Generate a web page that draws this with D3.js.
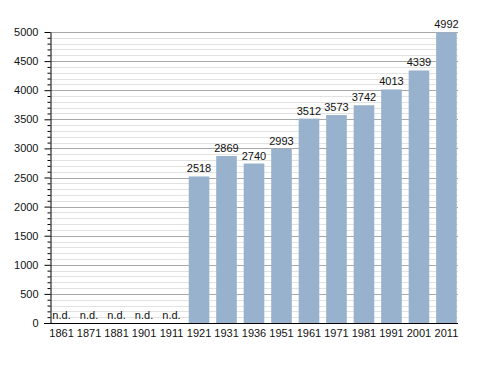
<!DOCTYPE html>
<html lang="en">
    <head>
        <meta charset="utf-8">
        <title>Population bar chart</title>
        <script src="https://cdn.jsdelivr.net/npm/d3@7"></script>
        <style>
            body { margin: 0; background: #fff; }
            text { font-family: "Liberation Sans", Arial, sans-serif; }
        </style>
    </head>
    <body>
        <script>
            // census years and population (null = no data, "n.d.")
            var years = ["1861", "1871", "1881", "1901", "1911", "1921", "1931", "1936",
                         "1951", "1961", "1971", "1981", "1991", "2001", "2011"];
            var population = [null, null, null, null, null, 2518, 2869, 2740,
                              2993, 3512, 3573, 3742, 4013, 4339, 4992];
            var yTicks = [0, 500, 1000, 1500, 2000, 2500, 3000, 3500, 4000, 4500, 5000];

            var w = 488, h = 373;
            var plotLeft = 50, plotRight = 458, plotTop = 32, plotBottom = 323;

            var svg = d3.select("body").append("svg")
                .attr("width", w)
                .attr("height", h);

            var x = d3.scaleBand()
                .domain(years)
                .range([plotLeft, plotRight])
                .paddingInner(0.25)
                .paddingOuter(0.045);

            var y = d3.scaleLinear()
                .domain([0, 5000])
                .range([plotBottom, plotTop]);

            // minor grid every 100, major every 500
            var minor = d3.range(0, 5001, 100).filter(function(v) { return v % 500 != 0; });
            svg.append("g").selectAll("line")
                .data(minor).enter().append("line")
                .attr("x1", plotLeft).attr("x2", plotRight)
                .attr("y1", function(d) { return Math.round(y(d)) + 0.5; })
                .attr("y2", function(d) { return Math.round(y(d)) + 0.5; })
                .attr("stroke", "#e2e2e2");
            svg.append("g").selectAll("line")
                .data(yTicks.slice(1)).enter().append("line")
                .attr("x1", plotLeft).attr("x2", plotRight)
                .attr("y1", function(d) { return Math.round(y(d)) + 0.5; })
                .attr("y2", function(d) { return Math.round(y(d)) + 0.5; })
                .attr("stroke", "#a8a8a8");

            // bars
            svg.append("g").selectAll("rect")
                .data(years.filter(function(d, i) { return population[i] != null; }))
                .enter().append("rect")
                .attr("x", function(d) { return x(d); })
                .attr("width", x.bandwidth())
                .attr("y", function(d) { return y(population[years.indexOf(d)]); })
                .attr("height", function(d) { return plotBottom - y(population[years.indexOf(d)]); })
                .attr("fill", "#98b2cd");

            // value labels
            svg.append("g").selectAll("text")
                .data(years).enter().append("text")
                .attr("x", function(d) { return x(d) + x.bandwidth() / 2; })
                .attr("y", function(d, i) {
                    return population[i] == null ? plotBottom - 4 : y(population[i]) - 4;
                })
                .attr("text-anchor", "middle")
                .attr("font-size", "11px")
                .attr("fill", "#111")
                .text(function(d, i) { return population[i] == null ? "n.d." : population[i]; });

            // y axis with minor ticks
            svg.append("g")
                .attr("transform", "translate(" + (plotLeft + 0.5) + ",0)")
                .call(d3.axisLeft(y).tickValues(minor).tickSize(3).tickFormat(""))
                .call(function(g) { g.select(".domain").remove(); });
            var yAxis = svg.append("g")
                .attr("transform", "translate(" + (plotLeft + 0.5) + ",0)")
                .call(d3.axisLeft(y).tickValues(yTicks).tickSize(6).tickPadding(6)
                    .tickSizeOuter(0).tickFormat(d3.format("d")));
            yAxis.selectAll("text").attr("font-size", "11px").attr("fill", "#111");

            // x axis
            var xAxis = svg.append("g")
                .attr("transform", "translate(0," + (plotBottom + 0.5) + ")")
                .call(d3.axisBottom(x).tickSize(0).tickPadding(6));
            xAxis.select(".domain").attr("d", "M" + (plotLeft - 6) + ",0H" + plotRight);
            xAxis.selectAll("text").attr("font-size", "11px").attr("fill", "#111");

            svg.selectAll(".domain, .tick line").attr("stroke", "#000");
            d3.selectAll("svg g text").attr("font-family", null);
        </script>
    </body>
</html>
